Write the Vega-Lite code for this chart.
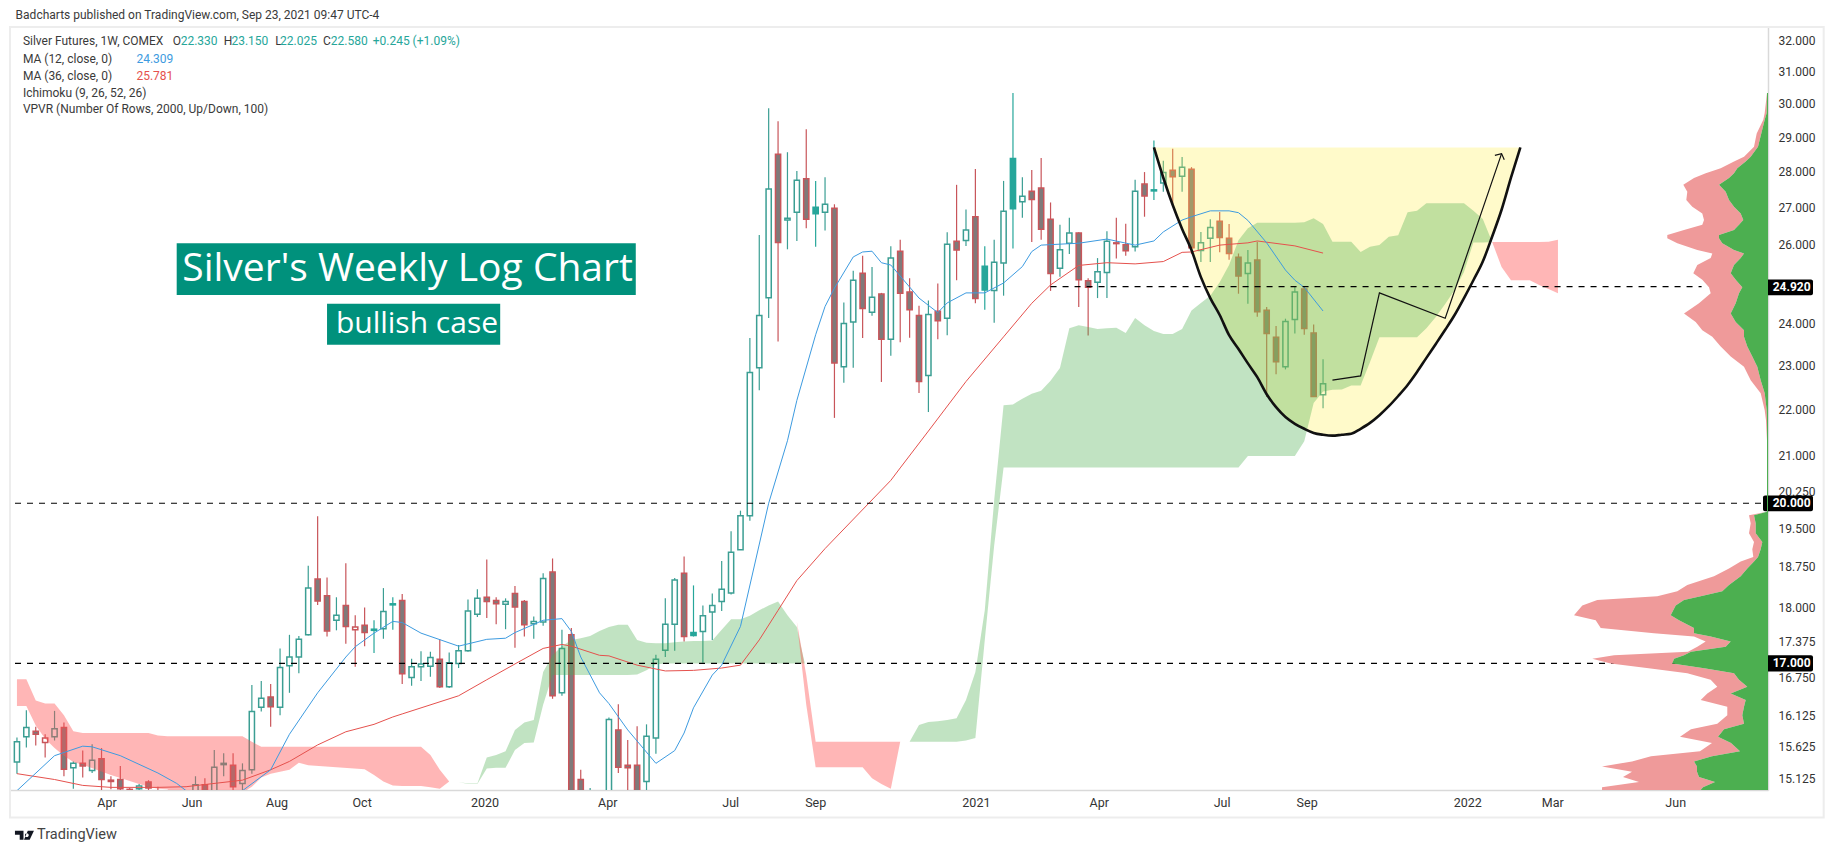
{
  "$schema": "https://vega.github.io/schema/vega-lite/v6.json",
  "description": "Silver futures weekly log chart, bullish case",
  "width": 1758,
  "height": 763,
  "autosize": {"type": "none"},
  "padding": {"left": 10, "top": 27, "right": 66, "bottom": 63},
  "background": "white",
  "config": {"view": {"stroke": null}},
  "datasets": {
    "candles": [
      {"d":"2019-01-21","o":15.38,"h":15.77,"l":15.20,"c":15.70,"s":"up"},
      {"d":"2019-01-28","o":15.78,"h":16.21,"l":15.61,"c":15.93,"s":"up"},
      {"d":"2019-02-04","o":15.87,"h":15.94,"l":15.64,"c":15.82,"s":"down"},
      {"d":"2019-02-11","o":15.69,"h":15.82,"l":15.45,"c":15.76,"s":"upRed"},
      {"d":"2019-02-18","o":15.78,"h":16.20,"l":15.72,"c":15.91,"s":"up"},
      {"d":"2019-02-25","o":15.93,"h":16.01,"l":15.16,"c":15.27,"s":"down"},
      {"d":"2019-03-04","o":15.29,"h":15.39,"l":14.97,"c":15.36,"s":"up"},
      {"d":"2019-03-11","o":15.36,"h":15.56,"l":15.14,"c":15.32,"s":"down"},
      {"d":"2019-03-18","o":15.25,"h":15.66,"l":15.21,"c":15.41,"s":"up"},
      {"d":"2019-03-25","o":15.43,"h":15.60,"l":14.94,"c":15.11,"s":"down"},
      {"d":"2019-04-01","o":15.10,"h":15.16,"l":14.96,"c":15.08,"s":"down"},
      {"d":"2019-04-08","o":15.11,"h":15.32,"l":14.90,"c":14.97,"s":"down"},
      {"d":"2019-04-15","o":14.96,"h":14.98,"l":14.91,"c":14.94,"s":"down"},
      {"d":"2019-04-22","o":14.97,"h":15.04,"l":14.94,"c":15.01,"s":"up"},
      {"d":"2019-04-29","o":15.07,"h":15.10,"l":14.94,"c":14.98,"s":"down"},
      {"d":"2019-05-06","o":14.90,"h":15.00,"l":14.60,"c":14.80,"s":"down"},
      {"d":"2019-05-13","o":14.75,"h":14.90,"l":14.50,"c":14.60,"s":"down"},
      {"d":"2019-05-20","o":14.55,"h":14.80,"l":14.30,"c":14.50,"s":"down"},
      {"d":"2019-05-27","o":14.45,"h":14.75,"l":14.30,"c":14.70,"s":"up"},
      {"d":"2019-06-03","o":14.60,"h":15.16,"l":14.50,"c":15.03,"s":"up"},
      {"d":"2019-06-10","o":15.03,"h":15.13,"l":14.70,"c":14.85,"s":"down"},
      {"d":"2019-06-17","o":14.80,"h":15.57,"l":14.70,"c":15.30,"s":"up"},
      {"d":"2019-06-24","o":15.34,"h":15.52,"l":15.16,"c":15.36,"s":"up"},
      {"d":"2019-07-01","o":15.33,"h":15.52,"l":14.90,"c":15.00,"s":"down"},
      {"d":"2019-07-08","o":15.05,"h":15.36,"l":14.94,"c":15.25,"s":"up"},
      {"d":"2019-07-15","o":15.26,"h":16.63,"l":15.20,"c":16.19,"s":"up"},
      {"d":"2019-07-22","o":16.26,"h":16.70,"l":16.19,"c":16.41,"s":"up"},
      {"d":"2019-07-29","o":16.43,"h":16.65,"l":15.94,"c":16.27,"s":"down"},
      {"d":"2019-08-05","o":16.26,"h":17.26,"l":16.13,"c":16.93,"s":"up"},
      {"d":"2019-08-12","o":16.96,"h":17.50,"l":16.50,"c":17.11,"s":"up"},
      {"d":"2019-08-19","o":17.11,"h":17.48,"l":16.83,"c":17.42,"s":"up"},
      {"d":"2019-08-26","o":17.50,"h":18.77,"l":17.49,"c":18.35,"s":"up"},
      {"d":"2019-09-02","o":18.52,"h":19.74,"l":18.04,"c":18.11,"s":"down"},
      {"d":"2019-09-09","o":18.21,"h":18.55,"l":17.47,"c":17.57,"s":"down"},
      {"d":"2019-09-16","o":17.76,"h":18.18,"l":17.58,"c":17.85,"s":"up"},
      {"d":"2019-09-23","o":18.03,"h":18.82,"l":17.34,"c":17.65,"s":"down"},
      {"d":"2019-09-30","o":17.59,"h":17.85,"l":16.94,"c":17.64,"s":"upRed"},
      {"d":"2019-10-07","o":17.67,"h":17.99,"l":17.30,"c":17.54,"s":"down"},
      {"d":"2019-10-14","o":17.60,"h":17.76,"l":17.18,"c":17.58,"s":"gain"},
      {"d":"2019-10-21","o":17.61,"h":18.35,"l":17.43,"c":17.92,"s":"up"},
      {"d":"2019-10-28","o":18.06,"h":18.18,"l":17.59,"c":18.04,"s":"gain"},
      {"d":"2019-11-04","o":18.12,"h":18.24,"l":16.65,"c":16.82,"s":"down"},
      {"d":"2019-11-11","o":16.76,"h":17.08,"l":16.62,"c":16.94,"s":"up"},
      {"d":"2019-11-18","o":16.94,"h":17.21,"l":16.70,"c":16.99,"s":"up"},
      {"d":"2019-11-25","o":16.95,"h":17.20,"l":16.77,"c":17.10,"s":"up"},
      {"d":"2019-12-02","o":17.07,"h":17.42,"l":16.58,"c":16.60,"s":"down"},
      {"d":"2019-12-09","o":16.60,"h":17.19,"l":16.58,"c":17.01,"s":"up"},
      {"d":"2019-12-16","o":17.00,"h":17.32,"l":16.92,"c":17.22,"s":"up"},
      {"d":"2019-12-23","o":17.22,"h":18.14,"l":17.20,"c":17.93,"s":"up"},
      {"d":"2019-12-30","o":17.87,"h":18.33,"l":17.82,"c":18.16,"s":"up"},
      {"d":"2020-01-06","o":18.18,"h":18.89,"l":17.80,"c":18.10,"s":"down"},
      {"d":"2020-01-13","o":18.12,"h":18.18,"l":17.69,"c":18.06,"s":"down"},
      {"d":"2020-01-20","o":18.05,"h":18.16,"l":17.60,"c":18.10,"s":"up"},
      {"d":"2020-01-27","o":18.25,"h":18.39,"l":17.27,"c":18.00,"s":"down"},
      {"d":"2020-02-03","o":18.10,"h":18.13,"l":17.47,"c":17.68,"s":"down"},
      {"d":"2020-02-10","o":17.70,"h":17.83,"l":17.43,"c":17.74,"s":"up"},
      {"d":"2020-02-17","o":17.73,"h":18.63,"l":17.66,"c":18.53,"s":"up"},
      {"d":"2020-02-24","o":18.65,"h":18.91,"l":16.40,"c":16.45,"s":"down"},
      {"d":"2020-03-02","o":16.50,"h":17.59,"l":16.45,"c":17.26,"s":"up"},
      {"d":"2020-03-09","o":17.50,"h":17.62,"l":14.30,"c":14.70,"s":"down"},
      {"d":"2020-03-16","o":15.11,"h":15.26,"l":11.70,"c":12.60,"s":"down"},
      {"d":"2020-03-23","o":12.60,"h":14.98,"l":12.50,"c":14.50,"s":"up"},
      {"d":"2020-03-30","o":14.00,"h":14.90,"l":13.80,"c":14.60,"s":"up"},
      {"d":"2020-04-06","o":14.50,"h":16.09,"l":14.40,"c":16.06,"s":"up"},
      {"d":"2020-04-13","o":15.89,"h":16.31,"l":15.21,"c":15.30,"s":"down"},
      {"d":"2020-04-20","o":15.33,"h":15.73,"l":14.70,"c":15.29,"s":"down"},
      {"d":"2020-04-27","o":15.33,"h":15.95,"l":14.60,"c":14.85,"s":"down"},
      {"d":"2020-05-04","o":15.08,"h":15.98,"l":14.80,"c":15.79,"s":"up"},
      {"d":"2020-05-11","o":15.76,"h":17.15,"l":15.51,"c":17.07,"s":"up"},
      {"d":"2020-05-18","o":17.23,"h":18.16,"l":17.11,"c":17.69,"s":"up"},
      {"d":"2020-05-25","o":17.69,"h":18.54,"l":17.22,"c":18.50,"s":"up"},
      {"d":"2020-06-01","o":18.63,"h":18.95,"l":17.38,"c":17.47,"s":"down"},
      {"d":"2020-06-08","o":17.54,"h":18.40,"l":17.47,"c":17.49,"s":"gain"},
      {"d":"2020-06-15","o":17.56,"h":18.03,"l":17.01,"c":17.84,"s":"up"},
      {"d":"2020-06-22","o":17.91,"h":18.25,"l":17.41,"c":18.03,"s":"up"},
      {"d":"2020-06-29","o":18.10,"h":18.86,"l":17.93,"c":18.33,"s":"up"},
      {"d":"2020-07-06","o":18.26,"h":19.44,"l":18.23,"c":19.03,"s":"up"},
      {"d":"2020-07-13","o":19.08,"h":19.85,"l":19.08,"c":19.75,"s":"up"},
      {"d":"2020-07-20","o":19.75,"h":23.65,"l":19.65,"c":22.84,"s":"up"},
      {"d":"2020-07-27","o":22.95,"h":26.26,"l":22.43,"c":24.20,"s":"up"},
      {"d":"2020-08-03","o":24.64,"h":29.86,"l":24.14,"c":27.51,"s":"up"},
      {"d":"2020-08-10","o":28.50,"h":29.47,"l":23.57,"c":26.06,"s":"down"},
      {"d":"2020-08-17","o":26.66,"h":28.56,"l":25.88,"c":26.71,"s":"up"},
      {"d":"2020-08-24","o":26.87,"h":28.02,"l":26.10,"c":27.76,"s":"up"},
      {"d":"2020-08-31","o":27.80,"h":29.23,"l":26.44,"c":26.68,"s":"down"},
      {"d":"2020-09-07","o":27.01,"h":27.74,"l":25.95,"c":26.83,"s":"gain"},
      {"d":"2020-09-14","o":26.87,"h":27.84,"l":26.38,"c":27.09,"s":"up"},
      {"d":"2020-09-21","o":26.98,"h":27.09,"l":21.81,"c":23.06,"s":"down"},
      {"d":"2020-09-28","o":22.97,"h":24.52,"l":22.60,"c":24.00,"s":"up"},
      {"d":"2020-10-05","o":24.04,"h":25.32,"l":22.95,"c":25.08,"s":"up"},
      {"d":"2020-10-12","o":25.26,"h":25.71,"l":23.65,"c":24.37,"s":"down"},
      {"d":"2020-10-19","o":24.28,"h":25.42,"l":24.19,"c":24.65,"s":"up"},
      {"d":"2020-10-26","o":24.73,"h":24.76,"l":22.62,"c":23.62,"s":"down"},
      {"d":"2020-11-02","o":23.62,"h":25.96,"l":23.23,"c":25.65,"s":"up"},
      {"d":"2020-11-09","o":25.83,"h":26.13,"l":23.55,"c":24.75,"s":"down"},
      {"d":"2020-11-16","o":24.78,"h":25.13,"l":23.66,"c":24.34,"s":"down"},
      {"d":"2020-11-23","o":24.20,"h":24.44,"l":22.37,"c":22.63,"s":"down"},
      {"d":"2020-11-30","o":22.77,"h":24.57,"l":21.94,"c":24.22,"s":"up"},
      {"d":"2020-12-07","o":24.30,"h":25.00,"l":23.62,"c":24.07,"s":"down"},
      {"d":"2020-12-14","o":24.13,"h":26.33,"l":23.72,"c":26.01,"s":"up"},
      {"d":"2020-12-21","o":26.09,"h":27.63,"l":25.08,"c":25.86,"s":"down"},
      {"d":"2020-12-28","o":26.11,"h":26.95,"l":25.97,"c":26.39,"s":"up"},
      {"d":"2021-01-04","o":26.75,"h":28.08,"l":24.50,"c":24.62,"s":"down"},
      {"d":"2021-01-11","o":25.44,"h":25.96,"l":24.34,"c":24.83,"s":"gain"},
      {"d":"2021-01-18","o":24.82,"h":26.13,"l":24.02,"c":25.54,"s":"up"},
      {"d":"2021-01-25","o":25.52,"h":27.74,"l":24.69,"c":26.90,"s":"up"},
      {"d":"2021-02-01","o":28.38,"h":30.33,"l":25.90,"c":26.97,"s":"gain"},
      {"d":"2021-02-08","o":27.16,"h":27.84,"l":26.72,"c":27.31,"s":"up"},
      {"d":"2021-02-15","o":27.45,"h":28.05,"l":26.07,"c":27.22,"s":"down"},
      {"d":"2021-02-22","o":27.54,"h":28.39,"l":26.13,"c":26.41,"s":"down"},
      {"d":"2021-03-01","o":26.68,"h":27.14,"l":24.81,"c":25.25,"s":"down"},
      {"d":"2021-03-08","o":25.39,"h":26.53,"l":25.17,"c":25.87,"s":"up"},
      {"d":"2021-03-15","o":26.04,"h":26.72,"l":25.76,"c":26.31,"s":"up"},
      {"d":"2021-03-22","o":26.31,"h":26.33,"l":24.41,"c":25.09,"s":"down"},
      {"d":"2021-03-29","o":25.07,"h":25.13,"l":23.71,"c":24.90,"s":"down"},
      {"d":"2021-04-05","o":25.03,"h":25.65,"l":24.63,"c":25.30,"s":"up"},
      {"d":"2021-04-12","o":25.28,"h":26.36,"l":24.63,"c":26.09,"s":"up"},
      {"d":"2021-04-19","o":26.05,"h":26.72,"l":25.64,"c":26.03,"s":"down"},
      {"d":"2021-04-26","o":26.00,"h":26.56,"l":25.71,"c":25.84,"s":"down"},
      {"d":"2021-05-03","o":25.95,"h":27.77,"l":25.82,"c":27.45,"s":"up"},
      {"d":"2021-05-10","o":27.65,"h":27.99,"l":26.75,"c":27.32,"s":"down"},
      {"d":"2021-05-17","o":27.49,"h":28.90,"l":27.21,"c":27.46,"s":"gain"},
      {"d":"2021-05-24","o":27.68,"h":28.31,"l":27.44,"c":27.98,"s":"up"},
      {"d":"2021-05-31","o":28.04,"h":28.66,"l":27.07,"c":27.86,"s":"down"},
      {"d":"2021-06-07","o":27.87,"h":28.42,"l":27.44,"c":28.13,"s":"up"},
      {"d":"2021-06-14","o":28.07,"h":28.13,"l":25.76,"c":25.92,"s":"down"},
      {"d":"2021-06-21","o":25.85,"h":26.34,"l":25.55,"c":26.05,"s":"up"},
      {"d":"2021-06-28","o":26.17,"h":26.68,"l":25.55,"c":26.46,"s":"up"},
      {"d":"2021-07-05","o":26.63,"h":26.88,"l":25.80,"c":26.19,"s":"down"},
      {"d":"2021-07-12","o":26.17,"h":26.55,"l":25.61,"c":25.77,"s":"down"},
      {"d":"2021-07-19","o":25.67,"h":25.77,"l":24.74,"c":25.19,"s":"down"},
      {"d":"2021-07-26","o":25.25,"h":25.86,"l":24.49,"c":25.52,"s":"up"},
      {"d":"2021-08-02","o":25.60,"h":26.08,"l":24.17,"c":24.29,"s":"down"},
      {"d":"2021-08-09","o":24.33,"h":24.41,"l":22.28,"c":23.76,"s":"down"},
      {"d":"2021-08-16","o":23.67,"h":23.94,"l":22.80,"c":23.09,"s":"down"},
      {"d":"2021-08-23","o":22.97,"h":24.12,"l":22.91,"c":24.05,"s":"up"},
      {"d":"2021-08-30","o":24.10,"h":24.92,"l":23.76,"c":24.78,"s":"up"},
      {"d":"2021-09-06","o":24.86,"h":24.92,"l":23.73,"c":23.88,"s":"down"},
      {"d":"2021-09-13","o":23.77,"h":23.98,"l":22.28,"c":22.29,"s":"down"},
      {"d":"2021-09-20","o":22.33,"h":23.15,"l":22.025,"c":22.58,"s":"up"}
    ],
    "ma12": [
      {"d":"2019-01-21","v":14.94},{"d":"2019-02-18","v":15.48},{"d":"2019-03-11","v":15.63},{"d":"2019-03-18","v":15.62},
      {"d":"2019-04-08","v":15.48},{"d":"2019-05-06","v":15.21},{"d":"2019-05-20","v":15.05},{"d":"2019-05-27","v":14.94},
      {"d":"2019-06-10","v":14.6},{"d":"2019-07-01","v":14.7},{"d":"2019-07-08","v":14.94},{"d":"2019-07-29","v":15.26},
      {"d":"2019-08-12","v":15.82},{"d":"2019-09-02","v":16.50},{"d":"2019-09-23","v":17.11},{"d":"2019-09-30","v":17.29},
      {"d":"2019-10-14","v":17.53},{"d":"2019-10-28","v":17.74},{"d":"2019-11-04","v":17.72},{"d":"2019-11-18","v":17.53},
      {"d":"2019-12-16","v":17.30},{"d":"2020-01-06","v":17.42},{"d":"2020-01-20","v":17.44},{"d":"2020-01-27","v":17.54},
      {"d":"2020-02-17","v":17.76},{"d":"2020-03-02","v":17.79},{"d":"2020-03-09","v":17.56},{"d":"2020-03-16","v":17.11},
      {"d":"2020-03-30","v":16.50},{"d":"2020-04-06","v":16.32},{"d":"2020-04-20","v":15.89},{"d":"2020-05-11","v":15.36},
      {"d":"2020-05-25","v":15.56},{"d":"2020-06-01","v":15.84},{"d":"2020-06-08","v":16.25},{"d":"2020-06-22","v":16.80},
      {"d":"2020-06-29","v":16.97},{"d":"2020-07-13","v":17.65},{"d":"2020-08-03","v":20.00},{"d":"2020-08-17","v":21.31},
      {"d":"2020-08-24","v":22.20},{"d":"2020-09-07","v":23.73},{"d":"2020-09-14","v":24.42},{"d":"2020-09-21","v":24.88},
      {"d":"2020-10-05","v":25.68},{"d":"2020-10-12","v":25.81},{"d":"2020-10-19","v":25.83},{"d":"2020-10-26","v":25.53},
      {"d":"2020-11-02","v":25.47},{"d":"2020-11-23","v":24.63},{"d":"2020-12-07","v":24.27},{"d":"2020-12-14","v":24.51},
      {"d":"2020-12-28","v":24.76},{"d":"2021-01-11","v":24.76},{"d":"2021-01-25","v":25.01},{"d":"2021-02-08","v":25.43},
      {"d":"2021-02-15","v":25.82},{"d":"2021-02-22","v":25.99},{"d":"2021-03-22","v":26.04},{"d":"2021-04-12","v":26.15},
      {"d":"2021-05-03","v":25.99},{"d":"2021-05-17","v":26.10},{"d":"2021-05-24","v":26.34},{"d":"2021-06-07","v":26.66},
      {"d":"2021-06-14","v":26.75},{"d":"2021-06-28","v":26.91},{"d":"2021-07-12","v":26.91},{"d":"2021-07-19","v":26.86},
      {"d":"2021-07-26","v":26.65},{"d":"2021-08-09","v":26.05},{"d":"2021-08-23","v":25.34},{"d":"2021-08-30","v":25.08},
      {"d":"2021-09-06","v":24.90},{"d":"2021-09-20","v":24.309}
    ],
    "ma36": [
      {"d":"2019-01-21","v":15.20},{"d":"2019-02-18","v":15.11},{"d":"2019-03-11","v":15.02},{"d":"2019-04-01","v":14.99},
      {"d":"2019-05-06","v":14.99},{"d":"2019-05-27","v":15.00},{"d":"2019-07-08","v":15.10},{"d":"2019-07-29","v":15.26},
      {"d":"2019-08-12","v":15.39},{"d":"2019-09-02","v":15.65},{"d":"2019-09-23","v":15.86},{"d":"2019-10-14","v":15.98},
      {"d":"2019-10-28","v":16.10},{"d":"2019-11-04","v":16.15},{"d":"2019-12-16","v":16.45},{"d":"2020-01-06","v":16.72},
      {"d":"2020-01-27","v":16.99},{"d":"2020-02-17","v":17.26},{"d":"2020-03-02","v":17.33},{"d":"2020-03-09","v":17.30},
      {"d":"2020-03-30","v":17.14},{"d":"2020-04-06","v":17.13},{"d":"2020-04-27","v":16.97},{"d":"2020-05-18","v":16.87},
      {"d":"2020-06-08","v":16.88},{"d":"2020-06-29","v":16.92},{"d":"2020-07-13","v":16.97},{"d":"2020-07-27","v":17.41},
      {"d":"2020-08-10","v":17.94},{"d":"2020-08-24","v":18.49},{"d":"2020-09-14","v":19.10},{"d":"2020-11-02","v":20.47},
      {"d":"2020-11-09","v":20.73},{"d":"2020-11-30","v":21.52},{"d":"2020-12-28","v":22.63},{"d":"2021-01-25","v":23.68},
      {"d":"2021-02-15","v":24.50},{"d":"2021-03-01","v":24.96},{"d":"2021-03-22","v":25.46},{"d":"2021-04-12","v":25.53},
      {"d":"2021-05-03","v":25.50},{"d":"2021-05-24","v":25.56},{"d":"2021-06-07","v":25.80},{"d":"2021-06-14","v":25.81},
      {"d":"2021-07-05","v":25.99},{"d":"2021-07-26","v":26.05},{"d":"2021-08-02","v":26.10},{"d":"2021-08-30","v":25.97},
      {"d":"2021-09-20","v":25.781}
    ],
    "cloud": [
      {"g":"red1","d":"2019-01-21","a":16.73,"b":16.28},{"g":"red1","d":"2019-01-28","a":16.73,"b":16.28},
      {"g":"red1","d":"2019-02-04","a":16.37,"b":15.96},{"g":"red1","d":"2019-02-11","a":16.32,"b":15.75},
      {"g":"red1","d":"2019-02-18","a":16.32,"b":15.60},{"g":"red1","d":"2019-02-25","a":16.13,"b":15.48},
      {"g":"red1","d":"2019-03-04","a":15.87,"b":15.38},{"g":"red1","d":"2019-03-11","a":15.84,"b":15.34},
      {"g":"red1","d":"2019-04-01","a":15.84,"b":15.18},{"g":"red1","d":"2019-04-22","a":15.84,"b":15.04},
      {"g":"red1","d":"2019-04-29","a":15.84,"b":15.00},{"g":"red1","d":"2019-05-06","a":15.80,"b":14.97},
      {"g":"red1","d":"2019-05-13","a":15.79,"b":14.96},{"g":"red1","d":"2019-05-27","a":15.79,"b":14.80},
      {"g":"red1","d":"2019-07-01","a":15.79,"b":14.80},{"g":"red1","d":"2019-07-08","a":15.79,"b":14.91},
      {"g":"red1","d":"2019-07-15","a":15.70,"b":15.00},{"g":"red1","d":"2019-07-22","a":15.62,"b":15.14},
      {"g":"red1","d":"2019-07-29","a":15.62,"b":15.20},{"g":"red1","d":"2019-08-05","a":15.62,"b":15.23},
      {"g":"red1","d":"2019-08-12","a":15.62,"b":15.26},{"g":"red1","d":"2019-08-19","a":15.62,"b":15.37},
      {"g":"red1","d":"2019-08-26","a":15.62,"b":15.33},{"g":"red1","d":"2019-10-07","a":15.62,"b":15.27},
      {"g":"red1","d":"2019-10-14","a":15.62,"b":15.18},{"g":"red1","d":"2019-10-21","a":15.62,"b":15.08},
      {"g":"red1","d":"2019-10-28","a":15.62,"b":15.02},{"g":"red1","d":"2019-11-04","a":15.62,"b":15.01},
      {"g":"red1","d":"2019-11-18","a":15.62,"b":15.01},{"g":"red1","d":"2019-11-25","a":15.49,"b":14.99},
      {"g":"red1","d":"2019-12-02","a":15.26,"b":14.97},{"g":"red1","d":"2019-12-09","a":15.08,"b":15.08},
      {"g":"green1","d":"2019-12-09","a":15.08,"b":15.08},{"g":"green1","d":"2019-12-16","a":15.07,"b":15.07},
      {"g":"green1","d":"2019-12-23","a":15.05,"b":15.04},{"g":"green1","d":"2019-12-30","a":15.05,"b":15.04},
      {"g":"green1","d":"2020-01-06","a":15.45,"b":15.28},{"g":"green1","d":"2020-01-13","a":15.49,"b":15.29},
      {"g":"green1","d":"2020-01-20","a":15.55,"b":15.29},{"g":"green1","d":"2020-01-27","a":15.89,"b":15.57},
      {"g":"green1","d":"2020-02-03","a":16.01,"b":15.68},{"g":"green1","d":"2020-02-10","a":16.05,"b":15.69},
      {"g":"green1","d":"2020-02-17","a":16.85,"b":16.30},{"g":"green1","d":"2020-02-24","a":17.14,"b":16.80},
      {"g":"green1","d":"2020-03-02","a":17.30,"b":16.80},{"g":"green1","d":"2020-03-09","a":17.41,"b":16.80},
      {"g":"green1","d":"2020-03-16","a":17.44,"b":16.80},{"g":"green1","d":"2020-03-23","a":17.48,"b":16.80},
      {"g":"green1","d":"2020-03-30","a":17.57,"b":16.80},{"g":"green1","d":"2020-04-06","a":17.64,"b":16.80},
      {"g":"green1","d":"2020-04-13","a":17.68,"b":16.80},{"g":"green1","d":"2020-04-20","a":17.68,"b":16.80},
      {"g":"green1","d":"2020-04-27","a":17.41,"b":16.81},{"g":"green1","d":"2020-05-04","a":17.36,"b":16.88},
      {"g":"green1","d":"2020-05-11","a":17.35,"b":16.98},{"g":"green1","d":"2020-05-18","a":17.35,"b":17.0},
      {"g":"green1","d":"2020-05-25","a":17.37,"b":17.0},{"g":"green1","d":"2020-06-01","a":17.38,"b":17.0},
      {"g":"green1","d":"2020-06-08","a":17.39,"b":17.0},{"g":"green1","d":"2020-06-15","a":17.39,"b":17.0},
      {"g":"green1","d":"2020-06-22","a":17.40,"b":17.0},{"g":"green1","d":"2020-06-29","a":17.59,"b":17.0},
      {"g":"green1","d":"2020-07-06","a":17.78,"b":17.0},{"g":"green1","d":"2020-07-13","a":17.78,"b":17.0},
      {"g":"green1","d":"2020-07-20","a":17.84,"b":17.0},{"g":"green1","d":"2020-07-27","a":17.94,"b":17.0},
      {"g":"green1","d":"2020-08-03","a":18.03,"b":17.0},{"g":"green1","d":"2020-08-10","a":18.10,"b":17.0},
      {"g":"green1","d":"2020-08-17","a":17.85,"b":17.0},{"g":"green1","d":"2020-08-24","a":17.64,"b":17.0},
      {"g":"green1","d":"2020-08-27","a":17.3,"b":17.0},{"g":"green1","d":"2020-08-30","a":17.0,"b":17.0},
      {"g":"red2","d":"2020-08-24","a":17.73,"b":17.73},{"g":"red2","d":"2020-08-31","a":16.80,"b":16.30},
      {"g":"red2","d":"2020-09-07","a":15.70,"b":15.30},{"g":"red2","d":"2020-10-12","a":15.70,"b":15.30},
      {"g":"red2","d":"2020-10-19","a":15.70,"b":15.13},{"g":"red2","d":"2020-10-26","a":15.70,"b":15.04},
      {"g":"red2","d":"2020-11-02","a":15.70,"b":14.97},{"g":"red2","d":"2020-11-09","a":15.70,"b":15.70},
      {"g":"green2","d":"2020-11-16","a":15.70,"b":15.70},{"g":"green2","d":"2020-11-23","a":15.97,"b":15.70},
      {"g":"green2","d":"2020-11-30","a":16.02,"b":15.70},{"g":"green2","d":"2020-12-07","a":16.03,"b":15.70},
      {"g":"green2","d":"2020-12-14","a":16.05,"b":15.70},{"g":"green2","d":"2020-12-21","a":16.08,"b":15.70},
      {"g":"green2","d":"2020-12-28","a":16.38,"b":15.72},{"g":"green2","d":"2021-01-04","a":16.85,"b":15.76},
      {"g":"green2","d":"2021-01-11","a":17.94,"b":17.41},{"g":"green2","d":"2021-01-18","a":20.06,"b":19.16},
      {"g":"green2","d":"2021-01-25","a":22.09,"b":20.74},{"g":"green2","d":"2021-02-01","a":22.11,"b":20.74},
      {"g":"green2","d":"2021-02-08","a":22.24,"b":20.74},{"g":"green2","d":"2021-02-15","a":22.35,"b":20.74},
      {"g":"green2","d":"2021-02-22","a":22.42,"b":20.74},{"g":"green2","d":"2021-03-01","a":22.65,"b":20.74},
      {"g":"green2","d":"2021-03-08","a":22.94,"b":20.74},{"g":"green2","d":"2021-03-15","a":23.89,"b":20.74},
      {"g":"green2","d":"2021-03-22","a":23.96,"b":20.74},{"g":"green2","d":"2021-03-29","a":23.92,"b":20.74},
      {"g":"green2","d":"2021-04-05","a":23.87,"b":20.74},{"g":"green2","d":"2021-04-12","a":23.89,"b":20.74},
      {"g":"green2","d":"2021-04-19","a":23.90,"b":20.74},{"g":"green2","d":"2021-04-26","a":23.77,"b":20.74},
      {"g":"green2","d":"2021-05-03","a":24.14,"b":20.74},{"g":"green2","d":"2021-05-10","a":23.96,"b":20.74},
      {"g":"green2","d":"2021-05-17","a":23.82,"b":20.74},{"g":"green2","d":"2021-05-24","a":23.75,"b":20.74},
      {"g":"green2","d":"2021-05-31","a":23.75,"b":20.74},{"g":"green2","d":"2021-06-07","a":23.87,"b":20.74},
      {"g":"green2","d":"2021-06-14","a":24.32,"b":20.74},{"g":"green2","d":"2021-06-21","a":24.51,"b":20.74},
      {"g":"green2","d":"2021-06-28","a":24.69,"b":20.74},{"g":"green2","d":"2021-07-05","a":25.03,"b":20.74},
      {"g":"green2","d":"2021-07-12","a":25.47,"b":20.74},{"g":"green2","d":"2021-07-19","a":26.12,"b":20.74},
      {"g":"green2","d":"2021-07-26","a":26.44,"b":20.98},{"g":"green2","d":"2021-08-02","a":26.59,"b":20.98},
      {"g":"green2","d":"2021-08-30","a":26.59,"b":20.98},{"g":"green2","d":"2021-09-06","a":26.60,"b":21.30},
      {"g":"green2","d":"2021-09-13","a":26.71,"b":22.14},{"g":"green2","d":"2021-09-20","a":26.55,"b":22.40},
      {"g":"green2","d":"2021-09-27","a":26.08,"b":22.44},{"g":"green2","d":"2021-10-04","a":26.08,"b":22.45},
      {"g":"green2","d":"2021-10-11","a":26.08,"b":22.54},{"g":"green2","d":"2021-10-18","a":25.81,"b":22.54},
      {"g":"green2","d":"2021-10-25","a":25.95,"b":23.08},{"g":"green2","d":"2021-11-01","a":25.99,"b":23.67},
      {"g":"green2","d":"2021-11-08","a":26.21,"b":23.67},{"g":"green2","d":"2021-11-15","a":26.25,"b":23.67},
      {"g":"green2","d":"2021-11-22","a":26.87,"b":23.67},{"g":"green2","d":"2021-11-29","a":26.91,"b":23.67},
      {"g":"green2","d":"2021-12-06","a":27.12,"b":23.89},{"g":"green2","d":"2021-12-13","a":27.12,"b":24.16},
      {"g":"green2","d":"2021-12-20","a":27.12,"b":24.48},{"g":"green2","d":"2021-12-27","a":27.12,"b":24.83},
      {"g":"green2","d":"2022-01-03","a":27.12,"b":25.29},{"g":"green2","d":"2022-01-10","a":26.91,"b":26.06},
      {"g":"green2","d":"2022-01-17","a":26.69,"b":26.06},{"g":"green2","d":"2022-01-24","a":26.07,"b":26.07},
      {"g":"red3","d":"2022-01-24","a":26.07,"b":26.07},{"g":"red3","d":"2022-01-31","a":26.07,"b":25.42},
      {"g":"red3","d":"2022-02-07","a":26.07,"b":25.08},{"g":"red3","d":"2022-02-14","a":26.07,"b":25.08},
      {"g":"red3","d":"2022-02-21","a":26.07,"b":25.08},{"g":"red3","d":"2022-02-28","a":26.07,"b":24.96},
      {"g":"red3","d":"2022-03-07","a":26.08,"b":24.86},{"g":"red3","d":"2022-03-14","a":26.13,"b":24.75}
    ],
    "cup": [
      {"d":"2021-05-17","v":28.70},{"d":"2021-05-24","v":27.83},{"d":"2021-05-31","v":27.07},{"d":"2021-06-07","v":26.42},
      {"d":"2021-06-14","v":25.86},{"d":"2021-06-21","v":25.16},{"d":"2021-06-28","v":24.63},{"d":"2021-07-05","v":24.21},
      {"d":"2021-07-12","v":23.72},{"d":"2021-07-19","v":23.39},{"d":"2021-07-26","v":23.05},{"d":"2021-08-02","v":22.73},
      {"d":"2021-08-09","v":22.34},{"d":"2021-08-16","v":22.05},{"d":"2021-08-23","v":21.83},{"d":"2021-08-30","v":21.68},
      {"d":"2021-09-06","v":21.57},{"d":"2021-09-13","v":21.48},{"d":"2021-09-20","v":21.44},{"d":"2021-09-27","v":21.42},
      {"d":"2021-10-04","v":21.44},{"d":"2021-10-11","v":21.46},{"d":"2021-10-18","v":21.57},{"d":"2021-10-25","v":21.70},
      {"d":"2021-11-01","v":21.87},{"d":"2021-11-08","v":22.07},{"d":"2021-11-15","v":22.30},{"d":"2021-11-22","v":22.55},
      {"d":"2021-11-29","v":22.85},{"d":"2021-12-06","v":23.18},{"d":"2021-12-13","v":23.51},{"d":"2021-12-20","v":23.85},
      {"d":"2021-12-27","v":24.21},{"d":"2022-01-03","v":24.63},{"d":"2022-01-10","v":25.08},{"d":"2022-01-17","v":25.56},
      {"d":"2022-01-24","v":26.22},{"d":"2022-01-31","v":26.94},{"d":"2022-02-07","v":27.83},{"d":"2022-02-14","v":28.70}
    ],
    "path": [
      {"g":"a","i":1,"d":"2021-09-27","v":22.66},{"g":"a","i":2,"d":"2021-10-18","v":22.76},{"g":"a","i":3,"d":"2021-11-01","v":24.76},
      {"g":"a","i":4,"d":"2021-12-20","v":24.13},{"g":"a","i":5,"d":"2022-01-31","v":28.52},
      {"g":"b","i":1,"d":"2022-01-26","v":28.47},{"g":"b","i":2,"d":"2022-01-31","v":28.52},{"g":"b","i":3,"d":"2022-02-02","v":28.34}
    ],
    "vpvr": [
      {"p":30.33,"u":1,"t":1},{"p":29.72,"u":1.3,"t":3.3},{"p":29.52,"u":3.3,"t":4.7},{"p":29.11,"u":6.7,"t":11.3},{"p":28.72,"u":10,"t":14},
      {"p":28.43,"u":17.3,"t":24},{"p":28.29,"u":22.3,"t":34},{"p":28.10,"u":30.7,"t":47.3},{"p":27.96,"u":34,"t":62.3},{"p":27.82,"u":39,"t":74},
      {"p":27.63,"u":49,"t":84.7},{"p":27.44,"u":42.3,"t":80.7},{"p":27.21,"u":39,"t":81.7},{"p":27.02,"u":34,"t":75.7},{"p":26.84,"u":27.3,"t":65.7},
      {"p":26.66,"u":24.7,"t":64},{"p":26.53,"u":29,"t":65.7},{"p":26.39,"u":34,"t":84},{"p":26.26,"u":49,"t":100.7},{"p":26.17,"u":49,"t":100.7},
      {"p":26.04,"u":45.7,"t":90.7},{"p":25.86,"u":34,"t":70.7},{"p":25.77,"u":24,"t":55.7},{"p":25.65,"u":27.3,"t":57.3},{"p":25.47,"u":34,"t":70.7},
      {"p":25.26,"u":37.3,"t":74.7},{"p":25.09,"u":32.3,"t":65.7},{"p":24.90,"u":25.7,"t":59},{"p":24.75,"u":29,"t":57.3},{"p":24.50,"u":32.3,"t":69},
      {"p":24.25,"u":37.3,"t":84},{"p":24.04,"u":32.3,"t":72.3},{"p":23.84,"u":24,"t":65.7},{"p":23.68,"u":24,"t":55.7},{"p":23.45,"u":20.7,"t":47.3},
      {"p":23.21,"u":15.7,"t":37.3},{"p":22.97,"u":10.7,"t":24},{"p":22.66,"u":7.3,"t":17.3},{"p":22.36,"u":3.3,"t":7.3},{"p":21.98,"u":1.3,"t":3.3},
      {"p":21.76,"u":1,"t":2},{"p":21.31,"u":1,"t":1},{"p":20.40,"u":1,"t":1},{"p":19.83,"u":1,"t":1},{"p":19.76,"u":14,"t":19},{"p":19.60,"u":12.3,"t":17.3},
      {"p":19.40,"u":12.3,"t":19},{"p":19.23,"u":5.7,"t":14},{"p":19.09,"u":7.3,"t":15.7},{"p":18.94,"u":10,"t":14.7},{"p":18.85,"u":14,"t":27.3},
      {"p":18.72,"u":20.7,"t":39},{"p":18.57,"u":27.3,"t":54},{"p":18.41,"u":39,"t":80.7},{"p":18.29,"u":45.7,"t":90.7},{"p":18.20,"u":67.3,"t":110.7},
      {"p":18.13,"u":84,"t":170.7},{"p":18.03,"u":92.3,"t":185.7},{"p":17.85,"u":97.3,"t":194},{"p":17.76,"u":89,"t":172.3},{"p":17.62,"u":74,"t":167.3},
      {"p":17.53,"u":74,"t":114},{"p":17.47,"u":57.3,"t":74},{"p":17.38,"u":37.3,"t":62.3},{"p":17.29,"u":42.3,"t":70.7},{"p":17.20,"u":77,"t":80},
      {"p":17.14,"u":84,"t":154},{"p":17.08,"u":94,"t":175.7},{"p":17.00,"u":95.7,"t":157.3},{"p":16.91,"u":62.3,"t":117.3},{"p":16.83,"u":34,"t":80.7},
      {"p":16.72,"u":29,"t":57.3},{"p":16.60,"u":20.7,"t":50.7},{"p":16.49,"u":37.3,"t":60.7},{"p":16.38,"u":22.3,"t":67.3},{"p":16.27,"u":24,"t":40.7},
      {"p":16.13,"u":25.7,"t":40.7},{"p":15.99,"u":24,"t":50.7},{"p":15.90,"u":44,"t":77},{"p":15.78,"u":50,"t":88},{"p":15.68,"u":37,"t":56},
      {"p":15.55,"u":28,"t":68},{"p":15.47,"u":56,"t":117},{"p":15.39,"u":74,"t":136},{"p":15.31,"u":71,"t":166},{"p":15.23,"u":71,"t":136},
      {"p":15.15,"u":69,"t":145},{"p":15.07,"u":53,"t":129},{"p":14.99,"u":65,"t":166},{"p":14.94,"u":68,"t":166}
    ],
    "texts": [
      {"d":"2019-01-20T00:00:00Z","p":32.83,"t":"Badcharts published on TradingView.com, Sep 23, 2021 09:47 UTC-4","k":"dark"},
      {"d":"2019-01-25T10:00:00Z","p":31.96,"t":"Silver Futures, 1W, COMEX","k":"dark"},
      {"d":"2019-05-17T00:00:00Z","p":31.96,"t":"O","k":"dark"},
      {"d":"2019-05-23T00:00:00Z","p":31.96,"t":"22.330","k":"teal"},
      {"d":"2019-06-24T00:00:00Z","p":31.96,"t":"H","k":"dark"},
      {"d":"2019-06-29T19:00:00Z","p":31.96,"t":"23.150","k":"teal"},
      {"d":"2019-08-01T10:00:00Z","p":31.96,"t":"L","k":"dark"},
      {"d":"2019-08-05T00:00:00Z","p":31.96,"t":"22.025","k":"teal"},
      {"d":"2019-09-06T00:00:00Z","p":31.96,"t":"C","k":"dark"},
      {"d":"2019-09-11T19:00:00Z","p":31.96,"t":"22.580","k":"teal"},
      {"d":"2019-10-13T00:00:00Z","p":31.96,"t":"+0.245 (+1.09%)","k":"teal"},
      {"d":"2019-01-25T10:00:00Z","p":31.39,"t":"MA (12, close, 0)","k":"dark"},
      {"d":"2019-04-20T00:00:00Z","p":31.39,"t":"24.309","k":"blue"},
      {"d":"2019-01-25T10:00:00Z","p":30.86,"t":"MA (36, close, 0)","k":"dark"},
      {"d":"2019-04-20T00:00:00Z","p":30.86,"t":"25.781","k":"red"},
      {"d":"2019-01-25T10:00:00Z","p":30.32,"t":"Ichimoku (9, 26, 52, 26)","k":"dark"},
      {"d":"2019-01-25T10:00:00Z","p":29.84,"t":"VPVR (Number Of Rows, 2000, Up/Down, 100)","k":"dark"}
    ],
    "boxes": [
      {"x1":"2019-05-20","x2":"2020-04-26","p1":26.04,"p2":24.71},
      {"x1":"2019-09-09","x2":"2020-01-16","p1":24.49,"p2":23.49}
    ],
    "tags": [
      {"x1":"2022-08-13T18:00:00Z","x2":"2022-09-20","p1":25.10,"p2":24.70,"tx":"2022-08-21","p":24.92,"t":"24.920"},
      {"x1":"2022-08-13T18:00:00Z","x2":"2022-09-20","p1":20.16,"p2":19.84,"tx":"2022-08-21","p":20,"t":"20.000"},
      {"x1":"2022-08-13T18:00:00Z","x2":"2022-09-20","p1":17.14,"p2":16.86,"tx":"2022-08-21","p":17,"t":"17.000"}
    ],
    "levels": [
      {"x1":"2019-01-19T13:00:00Z","x2":"2022-08-13T18:00:00Z","p":20},
      {"x1":"2019-01-19T13:00:00Z","x2":"2022-08-13T18:00:00Z","p":17},
      {"x1":"2021-03-01","x2":"2022-06-29","p":24.92}
    ]
  },
  "resolve": {"scale": {"x": "independent"}, "axis": {"x": "independent", "y": "independent"}},
  "layer": [
    {
      "data": {"values": [{"x1":"2019-01-19T13:00:00Z","x2":"2022-09-24","p1":32.43,"p2":14.54}]},
      "mark": {"type":"rect","fill":null,"stroke":"#ededed","strokeWidth":2,"clip":false},
      "encoding": {
        "x": {
          "field":"x1","type":"temporal","title":null,
          "scale": {"type":"utc","domain":[1547902800000,1660413600000]},
          "axis": {
            "orient":"bottom","title":null,"grid":false,"ticks":false,"domainColor":"#d9d9d9","domainWidth":1.5,
            "labelFont":"Roboto","labelFontSize":12.5,"labelColor":"#333333","labelPadding":6,"labelOverlap":false,"labelFlush":false,
            "values":[1554076800000,1559520000000,1564963200000,1570406400000,1578268800000,1586131200000,1593993600000,1599436800000,1609718400000,1617580800000,1625443200000,1630886400000,1641168000000,1646611200000,1654473600000],
            "labelExpr":"utcmonth(datum.value)==0 ? utcFormat(datum.value,'%Y') : utcFormat(datum.value,'%b')"
          }
        },
        "x2": {"field":"x2"},
        "y": {
          "field":"p1","type":"quantitative","title":null,
          "scale": {"type":"log","domain":[14.95,32.43],"nice":false,"zero":false},
          "axis": {
            "orient":"right","title":null,"grid":false,"ticks":false,"domainColor":"#d9d9d9","domainWidth":1.5,
            "labelFont":"Roboto","labelFontSize":12,"labelColor":"#333333","labelPadding":10,"labelOverlap":false,"labelBound":false,"labelFlush":false,"format":".3f",
            "values":[32,31,30,29,28,27,26,24,23,22,21,20.25,19.5,18.75,18,17.375,16.75,16.125,15.625,15.125]
          }
        },
        "y2": {"field":"p2"}
      }
    },
    {
      "resolve": {"scale": {"color": "independent", "fill": "independent", "stroke": "independent"}},
      "layer": [
        {
          "data": {"name":"candles"},
          "mark": {"type":"rule","strokeWidth":1.2,"clip":true},
          "encoding": {
            "x": {"field":"d","type":"temporal","axis":null,"scale":{"type":"utc","domain":[1547902800000,1660413600000]}},
            "y": {"field":"h","type":"quantitative","axis":null},
            "y2": {"field":"l"},
            "color": {"field":"s","type":"nominal","legend":null,"scale":{"domain":["up","down","gain","upRed"],"range":["#3b9e93","#c8555a","#26a69a","#c8555a"]}}
          }
        },
        {
          "data": {"name":"candles"},
          "mark": {"type":"bar","size":5.2,"strokeWidth":1.5,"clip":true},
          "encoding": {
            "x": {"field":"d","type":"temporal","axis":null},
            "y": {"field":"o","type":"quantitative","axis":null},
            "y2": {"field":"c"},
            "fill": {"field":"s","type":"nominal","legend":null,"scale":{"domain":["up","down","gain","upRed"],"range":["#ffffff","#7f7a7a","#26a69a","#ffffff"]}},
            "stroke": {"field":"s","type":"nominal","legend":null,"scale":{"domain":["up","down","gain","upRed"],"range":["#3b9e93","#c8555a","#26a69a","#c8555a"]}}
          }
        },
        {
          "data": {"name":"cup"},
          "mark": {"type":"area","color":"rgba(255,235,59,0.27)","clip":true},
          "encoding": {
            "x": {"field":"d","type":"temporal","axis":null},
            "y": {"field":"v","type":"quantitative","axis":null},
            "y2": {"datum":28.7}
          }
        },
        {
          "data": {"name":"cloud"},
          "mark": {"type":"area","clip":true},
          "encoding": {
            "x": {"field":"d","type":"temporal","axis":null},
            "y": {"field":"a","type":"quantitative","axis":null},
            "y2": {"field":"b"},
            "detail": {"field":"g"},
            "color": {"field":"g","type":"nominal","legend":null,"scale":{"domain":["red1","green1","red2","green2","red3"],"range":["rgba(255,82,82,0.42)","rgba(76,175,80,0.35)","rgba(255,82,82,0.42)","rgba(76,175,80,0.35)","rgba(255,82,82,0.42)"]}}
          }
        },
        {
          "data": {"name":"ma36"},
          "mark": {"type":"line","color":"#e5514d","strokeWidth":1,"clip":true},
          "encoding": {
            "x": {"field":"d","type":"temporal","axis":null},
            "y": {"field":"v","type":"quantitative","axis":null}
          }
        },
        {
          "data": {"name":"ma12"},
          "mark": {"type":"line","color":"#3d9be0","strokeWidth":1,"clip":true},
          "encoding": {
            "x": {"field":"d","type":"temporal","axis":null},
            "y": {"field":"v","type":"quantitative","axis":null}
          }
        },
        {
          "data": {"name":"levels"},
          "mark": {"type":"rule","color":"#000000","strokeWidth":1.2,"strokeDash":[6,6],"clip":false},
          "encoding": {
            "x": {"field":"x1","type":"temporal","axis":null},
            "x2": {"field":"x2"},
            "y": {"field":"p","type":"quantitative","axis":null}
          }
        },
        {
          "data": {"name":"cup"},
          "mark": {"type":"line","color":"#111111","strokeWidth":2.6,"interpolate":"monotone","clip":false},
          "encoding": {
            "x": {"field":"d","type":"temporal","axis":null},
            "y": {"field":"v","type":"quantitative","axis":null}
          }
        },
        {
          "data": {"name":"path"},
          "mark": {"type":"line","color":"#111111","strokeWidth":1.2},
          "encoding": {
            "x": {"field":"d","type":"temporal","axis":null},
            "y": {"field":"v","type":"quantitative","axis":null},
            "detail": {"field":"g"},
            "order": {"field":"i"}
          }
        },
        {
          "data": {"name":"boxes"},
          "mark": {"type":"rect","color":"#00917c"},
          "encoding": {
            "x": {"field":"x1","type":"temporal","axis":null},
            "x2": {"field":"x2"},
            "y": {"field":"p1","type":"quantitative","axis":null},
            "y2": {"field":"p2"}
          }
        },
        {
          "data": {"values":[{"d":"2019-11-08","p":25.37,"t":"Silver's Weekly Log Chart"}]},
          "mark": {"type":"text","font":"Open Sans","fontSize":39,"color":"#ffffff","align":"center","baseline":"middle"},
          "encoding": {
            "x": {"field":"d","type":"temporal","axis":null},
            "y": {"field":"p","type":"quantitative","axis":null},
            "text": {"field":"t"}
          }
        },
        {
          "data": {"values":[{"d":"2019-11-15","p":23.99,"t":"bullish case"}]},
          "mark": {"type":"text","font":"Open Sans","fontSize":30,"color":"#ffffff","align":"center","baseline":"middle"},
          "encoding": {
            "x": {"field":"d","type":"temporal","axis":null},
            "y": {"field":"p","type":"quantitative","axis":null},
            "text": {"field":"t"}
          }
        },
        {
          "data": {"name":"texts"},
          "mark": {"type":"text","font":"Roboto","fontSize":12,"align":"left","baseline":"middle","clip":false},
          "encoding": {
            "x": {"field":"d","type":"temporal","axis":null},
            "y": {"field":"p","type":"quantitative","axis":null},
            "text": {"field":"t"},
            "color": {"field":"k","type":"nominal","legend":null,"scale":{"domain":["dark","teal","blue","red"],"range":["#3a3a3a","#26a69a","#3d9be0","#e5514d"]}}
          }
        },
        {
          "data": {"values":[{"d":"2019-01-26T14:00:00Z","p":14.28}]},
          "mark": {"type":"point","filled":true,"opacity":1,"size":361,"color":"#131722","clip":false,"shape":"M-1 -0.47H-0.1V0.47H-0.5V-0.05H-1Z M0.25 -0.2A0.2 0.2 0 1 0 0.25 0.2A0.2 0.2 0 1 0 0.25 -0.2Z M0.35 -0.47H1L0.55 0.47H-0.05Z"},
          "encoding": {
            "x": {"field":"d","type":"temporal","axis":null},
            "y": {"field":"p","type":"quantitative","axis":null}
          }
        },
        {
          "data": {"values":[{"d":"2019-02-05","p":14.28,"t":"TradingView"}]},
          "mark": {"type":"text","font":"Roboto","fontSize":14.5,"color":"#444444","align":"left","baseline":"middle"},
          "encoding": {
            "x": {"field":"d","type":"temporal","axis":null},
            "y": {"field":"p","type":"quantitative","axis":null},
            "text": {"field":"t"}
          }
        },
        {
          "data": {"name":"tags"},
          "mark": {"type":"rect","color":"#000000","cornerRadius":2},
          "encoding": {
            "x": {"field":"x1","type":"temporal","axis":null},
            "x2": {"field":"x2"},
            "y": {"field":"p1","type":"quantitative","axis":null},
            "y2": {"field":"p2"}
          }
        },
        {
          "data": {"name":"tags"},
          "mark": {"type":"text","font":"Roboto","fontSize":12,"fontWeight":"bold","color":"#ffffff","align":"left","baseline":"middle"},
          "encoding": {
            "x": {"field":"tx","type":"temporal","axis":null},
            "y": {"field":"p","type":"quantitative","axis":null},
            "text": {"field":"t"}
          }
        }
      ]
    },
    {
      "layer": [
        {
          "data": {"name":"vpvr"},
          "mark": {"type":"area","orient":"horizontal","color":"#ef9a9a","clip":true},
          "encoding": {
            "x": {"field":"t","type":"quantitative","stack":null,"axis":null,"scale":{"domain":[1758,0],"nice":false,"zero":false}},
            "x2": {"field":"u"},
            "y": {"field":"p","type":"quantitative","axis":null}
          }
        },
        {
          "data": {"name":"vpvr"},
          "mark": {"type":"area","orient":"horizontal","color":"#4caf50","clip":true},
          "encoding": {
            "x": {"field":"u","type":"quantitative","stack":null,"axis":null},
            "x2": {"datum":0},
            "y": {"field":"p","type":"quantitative","axis":null}
          }
        }
      ]
    }
  ]
}
